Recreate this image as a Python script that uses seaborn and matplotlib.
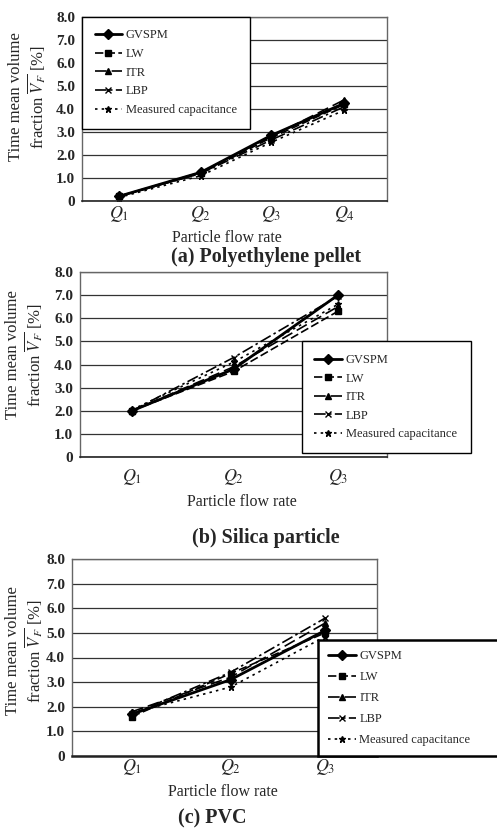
import matplotlib
matplotlib.use("Agg")
import matplotlib.pyplot as plt
import seaborn as sns

sns.set_theme(style="white")
plt.rcParams['font.family'] = ['Liberation Serif', 'DejaVu Serif']
plt.rcParams['mathtext.fontset'] = 'stix'

# ---------------- data ----------------
series_names = ["GVSPM", "LW", "ITR", "LBP", "Measured capacitance"]

# (a) Polyethylene pellet
flow_a = [0.12, 0.39, 0.62, 0.86]
qlabels_a = ["$Q_1$", "$Q_2$", "$Q_3$", "$Q_4$"]
gvspm_a = [0.2, 1.25, 2.85, 4.25]
lw_a = [0.2, 1.2, 2.75, 4.2]
itr_a = [0.2, 1.25, 2.8, 4.4]
lbp_a = [0.2, 1.2, 2.65, 4.1]
meas_a = [0.15, 1.1, 2.55, 3.95]

# (b) Silica particle
flow_b = [0.17, 0.50, 0.84]
qlabels_b = ["$Q_1$", "$Q_2$", "$Q_3$"]
gvspm_b = [2.0, 3.8, 7.0]
lw_b = [2.0, 3.7, 6.3]
itr_b = [2.0, 3.9, 6.5]
lbp_b = [2.0, 4.3, 6.95]
meas_b = [2.05, 4.1, 6.6]

# (c) PVC
flow_c = [0.197, 0.52, 0.83]
qlabels_c = ["$Q_1$", "$Q_2$", "$Q_3$"]
gvspm_c = [1.7, 3.1, 5.1]
lw_c = [1.6, 3.35, 5.0]
itr_c = [1.8, 3.2, 5.4]
lbp_c = [1.7, 3.4, 5.6]
meas_c = [1.75, 2.8, 4.85]

yticks = [0, 1, 2, 3, 4, 5, 6, 7, 8]
ytick_labels = ["0", "1.0", "2.0", "3.0", "4.0", "5.0", "6.0", "7.0", "8.0"]

styles = {
    "GVSPM": dict(marker="D", markersize=5, linewidth=2.0, linestyle="-"),
    "LW": dict(marker="s", markersize=4, linewidth=1.2, linestyle=(0, (5, 2))),
    "ITR": dict(marker="^", markersize=5, linewidth=1.2, linestyle=(0, (7, 3))),
    "LBP": dict(marker="x", markersize=5, linewidth=1.2, linestyle=(0, (7, 2, 1.5, 2))),
    "Measured capacitance": dict(marker="*", markersize=5, linewidth=1.2, linestyle=(0, (1.5, 2.5))),
}

W, H = 497, 831
fig = plt.figure(figsize=(W / 100, H / 100), dpi=100)


def px_axes(x0, x1, y0, y1):
    return fig.add_axes([x0 / W, (H - y1) / H, (x1 - x0) / W, (y1 - y0) / H])


def draw(ax, flow, qlabels, data):
    for name, vals in zip(series_names, data):
        st = styles[name]
        sns.lineplot(x=flow, y=vals, ax=ax, color="black", label=name,
                     markeredgecolor="black", markerfacecolor="black",
                     markeredgewidth=1.0, errorbar=None, **st)
    ax.set_xlim(0, 1)
    ax.set_ylim(0, 8)
    ax.set_yticks(yticks)
    ax.set_yticklabels(ytick_labels, fontsize=11, fontweight="bold")
    ax.set_xticks(flow)
    ax.set_xticklabels(qlabels, fontsize=13)
    ax.tick_params(axis="both", length=0)
    ax.tick_params(axis="y", pad=5)
    ax.yaxis.grid(True, color="#333333", linewidth=0.9)
    ax.xaxis.grid(False)
    ax.set_axisbelow(True)
    ax.set_xlabel("")
    ax.set_ylabel("")
    for s in ["top", "right", "left"]:
        ax.spines[s].set_color("#666666")
        ax.spines[s].set_linewidth(1.0)
    ax.spines["bottom"].set_color("#222222")
    ax.spines["bottom"].set_linewidth(1.2)


def legend(ax, bbox, loc, lw=1.0, fs=9, spacing=0.85, pad=0.8):
    leg = ax.legend(loc=loc, bbox_to_anchor=bbox, mode="expand", frameon=True,
                    fancybox=False, framealpha=1, edgecolor="black",
                    fontsize=fs, handlelength=2.2, labelspacing=spacing,
                    borderpad=pad, borderaxespad=0, handletextpad=0.3)
    leg.get_frame().set_linewidth(lw)
    leg.set_zorder(5)
    return leg


ylabel = "Time mean volume\nfraction $\\overline{V_F}$ [%]"

# (a)
ax_a = px_axes(82, 387, 17, 201)
draw(ax_a, flow_a, qlabels_a, [gvspm_a, lw_a, itr_a, lbp_a, meas_a])
ax_a.tick_params(axis="x", pad=2)
legend(ax_a, (0, 1 - 111 / 184, 0.55, 111 / 184), "upper left", spacing=0.53, pad=1.0)
fig.text(28 / W, 1 - 97 / H, ylabel, rotation=90, ha="center", va="center",
         fontsize=12, multialignment="center", linespacing=1.1)
fig.text(227 / W, 1 - 238 / H, "Particle flow rate", ha="center", va="center", fontsize=11.5)
fig.text(266 / W, 1 - 257 / H, "(a) Polyethylene pellet", ha="center", va="center",
         fontsize=14.5, fontweight="bold")

# (b)
ax_b = px_axes(80, 387, 272, 457)
draw(ax_b, flow_b, qlabels_b, [gvspm_b, lw_b, itr_b, lbp_b, meas_b])
ax_b.tick_params(axis="x", pad=7)
legend(ax_b, (0.723, 0.022, 0.55, 0.605), "lower left", spacing=0.53, pad=1.0)
fig.text(25 / W, 1 - 355 / H, ylabel, rotation=90, ha="center", va="center",
         fontsize=12, multialignment="center", linespacing=1.1)
fig.text(242 / W, 1 - 502 / H, "Particle flow rate", ha="center", va="center", fontsize=11.5)
fig.text(266 / W, 1 - 538 / H, "(b) Silica particle", ha="center", va="center",
         fontsize=14.5, fontweight="bold")

# (c)
ax_c = px_axes(72, 377, 559, 756)
draw(ax_c, flow_c, qlabels_c, [gvspm_c, lw_c, itr_c, lbp_c, meas_c])
ax_c.tick_params(axis="x", pad=1)
ax_c.spines["bottom"].set_linewidth(1.8)
legend(ax_c, (0.807, 0.0, 0.65, 0.6), "lower left", lw=1.8, spacing=0.72)
fig.text(25 / W, 1 - 651 / H, ylabel, rotation=90, ha="center", va="center",
         fontsize=12, multialignment="center", linespacing=1.1)
fig.text(223 / W, 1 - 792 / H, "Particle flow rate", ha="center", va="center", fontsize=11.5)
fig.text(212 / W, 1 - 818 / H, "(c) PVC", ha="center", va="center",
         fontsize=14.5, fontweight="bold")

fig.savefig("out.png", dpi=100)
